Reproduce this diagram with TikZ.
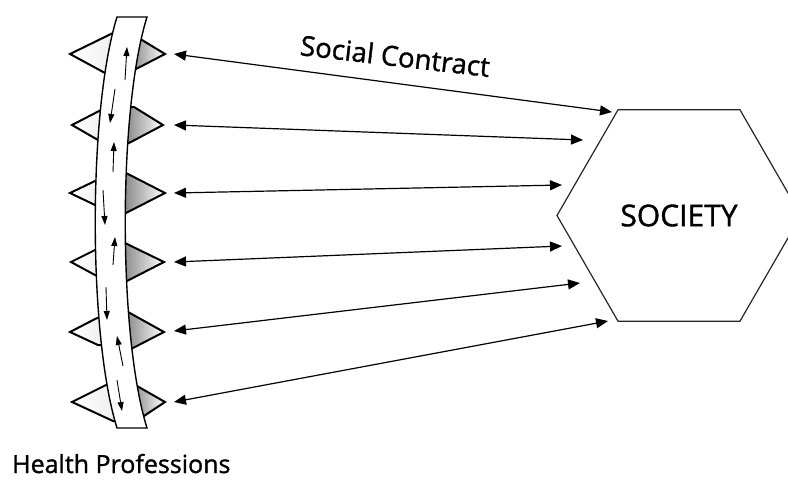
\documentclass[tikz,border=0pt]{standalone}
\usepackage{fontspec}
\setmainfont{Open Sans}[FakeBold=1.2]
\usetikzlibrary{arrows.meta,shapes.geometric}
\begin{document}
\begin{tikzpicture}[x=1pt,y=-1pt,
  spike/.style={draw=black, line width=2pt, line join=miter},
  lspike/.style={spike, left color=white, right color=black!8},
  rspike/.style={spike, left color=black!60, right color=white},
  band/.style={draw=black, fill=white, line width=1.4pt},
  flow/.style={line width=0.9pt, -{Triangle[length=9pt,width=6pt]}},
  link/.style={line width=1.2pt, {Triangle[length=12pt,width=10pt]}-{Triangle[length=12pt,width=10pt]}},
  hexa/.style={draw=black!85, fill=white, line width=1.2pt, regular polygon, regular polygon sides=6,
    minimum size=244pt, inner sep=0pt, outer sep=0pt, font=\fontsize{30}{36}\selectfont},
  lbl/.style={inner sep=0pt}]
\useasboundingbox (0,0) rectangle (788,480);
\clip (0,0) rectangle (788,480);

% spikes (left, white)
\draw[lspike] (70,54) -- (113,33) -- (127,33) -- (119,73) -- (105,73) -- cycle;
\draw[lspike] (72,125) -- (103,109) -- (117,109) -- (112,140) -- (98,140) -- cycle;
\draw[lspike] (70,193) -- (95,181) -- (109,181) -- (109,205) -- (95,205) -- cycle;
\draw[lspike] (71,262) -- (95,250) -- (109,250) -- (109,275) -- (95,275) -- cycle;
\draw[lspike] (70,332) -- (97,318) -- (111,318) -- (112,345) -- (98,345) -- cycle;
\draw[lspike] (72,402) -- (106,385) -- (120,385) -- (125,421) -- (113,421) -- cycle;
% spikes (right, shaded)
\draw[rspike] (165,54) -- (142,40) -- (128,40) -- (122,69) -- (136,69) -- cycle;
\draw[rspike] (163,125) -- (134,107) -- (120,107) -- (115,143) -- (129,143) -- cycle;
\draw[rspike] (165,193) -- (126,173) -- (112,173) -- (112,213) -- (126,213) -- cycle;
\draw[rspike] (164,262) -- (125,243) -- (111,243) -- (111,282) -- (125,282) -- cycle;
\draw[rspike] (164,332) -- (128,312) -- (114,312) -- (117,349) -- (131,349) -- cycle;
\draw[rspike] (165,402) -- (137,386) -- (123,386) -- (127,418) -- (141,418) -- cycle;

% the curved band
\draw[band] (117,17) -- (147,17) .. controls (118,110) and (118,335) .. (147,428)
  -- (117,428) .. controls (88,335) and (88,110) .. (117,17) -- cycle;

% flows inside the band
\draw[flow] (125,80) -- (127,47);
\draw[flow] (115,89) -- (110,123);
\draw[flow] (113,172) -- (114,142);
\draw[flow] (103,190) -- (105,225);
\draw[flow] (113,265) -- (115,237);
\draw[flow] (106,287) -- (107,320);
\draw[flow] (123,366) -- (117,336);
\draw[flow] (117,380) -- (122,411);

% society
\node[hexa] (soc) at (679,215.5) {SOCIETY};

% connector ends
\coordinate (l1) at (174,54);
\coordinate (l2) at (174,125);
\coordinate (l3) at (174,193);
\coordinate (l4) at (174,262);
\coordinate (l5) at (174,331);
\coordinate (l6) at (174,402);
\coordinate (r1) at (612,112);
\coordinate (r2) at (583,140);
\coordinate (r3) at (562,185);
\coordinate (r4) at (562,246);
\coordinate (r5) at (580,283);
\coordinate (r6) at (608,321);
\foreach \i in {1,...,6} \draw[link] (l\i) -- (r\i);

% labels
\node[lbl, anchor=base, rotate=-6.6, font=\fontsize{27.5}{32}\selectfont] (sc) at (394,66) {Social Contract};
\node[lbl, anchor=base west, font=\fontsize{25}{30}\selectfont] (hp) at (12,473) {Health Professions};
\end{tikzpicture}
\end{document}
